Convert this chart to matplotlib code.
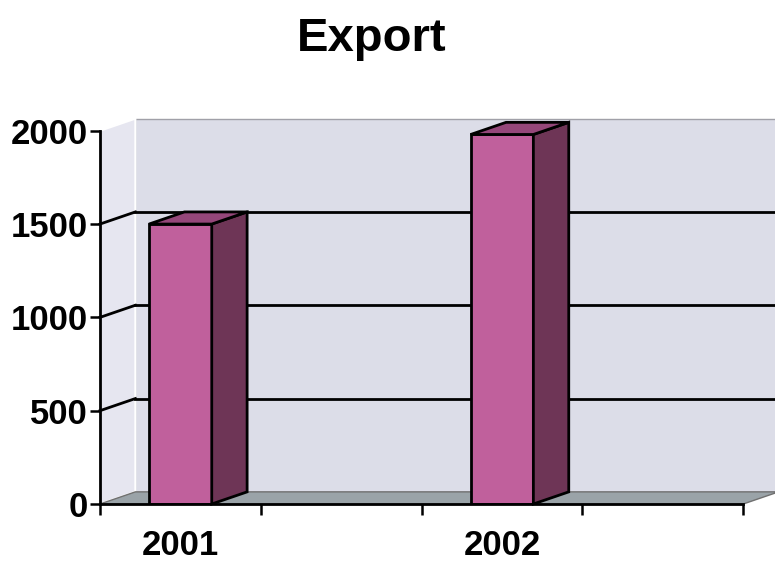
import matplotlib
matplotlib.use("Agg")
import matplotlib.pyplot as plt
from matplotlib.patches import Polygon
import numpy as np

# data: 4 category slots, only 2001 and 2002 carry a value
categories = ["2001", "", "2002", ""]
export = [1500, np.nan, 1980, np.nan]
y_ticks = [0, 500, 1000, 1500, 2000]

plt.rcParams["font.family"] = ["Liberation Sans", "DejaVu Sans"]
plt.rcParams["font.weight"] = "bold"

# pseudo-3d depth offset (in data units)
ddx, ddy = 0.22, 65
bar_w = 0.39
n = len(categories)
ymax = y_ticks[-1]

wall_col = "#dcdde8"
side_wall_col = "#e6e6f0"
floor_col = "#9aa3a8"
front_col = "#c0609c"
side_col = "#6e3556"
top_col = "#95477a"

fig = plt.figure(figsize=(7.75, 5.76), dpi=100)
ax = fig.add_axes([0.129, 0.125, 0.83, 0.648])
ax.set_xlim(0, n)
ax.set_ylim(0, ymax)
ax.patch.set_visible(False)

# back wall
ax.add_patch(Polygon([(ddx, ddy), (n + ddx, ddy), (n + ddx, ymax + ddy), (ddx, ymax + ddy)],
                     closed=True, facecolor=wall_col, edgecolor="#a0a0a8", lw=1, zorder=0, clip_on=False))
# left wall
ax.add_patch(Polygon([(0, 0), (ddx, ddy), (ddx, ymax + ddy), (0, ymax)],
                     closed=True, facecolor=side_wall_col, edgecolor="white", lw=1.5, zorder=0.5, clip_on=False))
# floor
ax.add_patch(Polygon([(0, 0), (n, 0), (n + ddx, ddy), (ddx, ddy)],
                     closed=True, facecolor=floor_col, edgecolor="#707070", lw=1, zorder=1, clip_on=False))

# gridlines on back wall and left wall
for v in y_ticks[1:-1]:
    ax.plot([ddx, n + ddx], [v + ddy, v + ddy], color="black", lw=2, zorder=1, clip_on=False)
    ax.plot([0, ddx], [v, v + ddy], color="black", lw=2, zorder=1, clip_on=False)

# bars: front face + side + top
xs = np.arange(n) + 0.5
for x, h in zip(xs, export):
    if np.isnan(h):
        continue
    ax.bar(x, h, width=bar_w, color=front_col, edgecolor="black", lw=2, zorder=3)
    x0, x1 = x - bar_w / 2, x + bar_w / 2
    ax.add_patch(Polygon([(x1, 0), (x1 + ddx, ddy), (x1 + ddx, h + ddy), (x1, h)],
                         closed=True, facecolor=side_col, edgecolor="black", lw=2, zorder=3, clip_on=False))
    ax.add_patch(Polygon([(x0, h), (x1, h), (x1 + ddx, h + ddy), (x0 + ddx, h + ddy)],
                         closed=True, facecolor=top_col, edgecolor="black", lw=2, zorder=3, clip_on=False))

# axes styling
for s in ["top", "right"]:
    ax.spines[s].set_visible(False)
ax.spines["left"].set_linewidth(2)
ax.spines["bottom"].set_linewidth(2)
ax.spines["left"].set_zorder(4)
ax.spines["bottom"].set_zorder(4)

ax.set_yticks(y_ticks)
ax.set_yticklabels([str(v) for v in y_ticks], fontsize=25, fontweight="bold")
ax.tick_params(axis="y", direction="out", length=7, width=1.8, pad=2)

ax.set_xticks(np.arange(n + 1))
ax.set_xticklabels([])
ax.tick_params(axis="x", which="major", direction="out", length=8, width=1.8)
ax.set_xticks(xs, labels=categories, minor=True)
ax.tick_params(axis="x", which="minor", length=0, pad=18, labelsize=25)
for t in ax.get_xticklabels(minor=True):
    t.set_fontweight("bold")

fig.text(0.48, 0.932, "Export", ha="center", va="center", fontsize=34, fontweight="bold")

fig.savefig("out.png", dpi=100, facecolor="white")
